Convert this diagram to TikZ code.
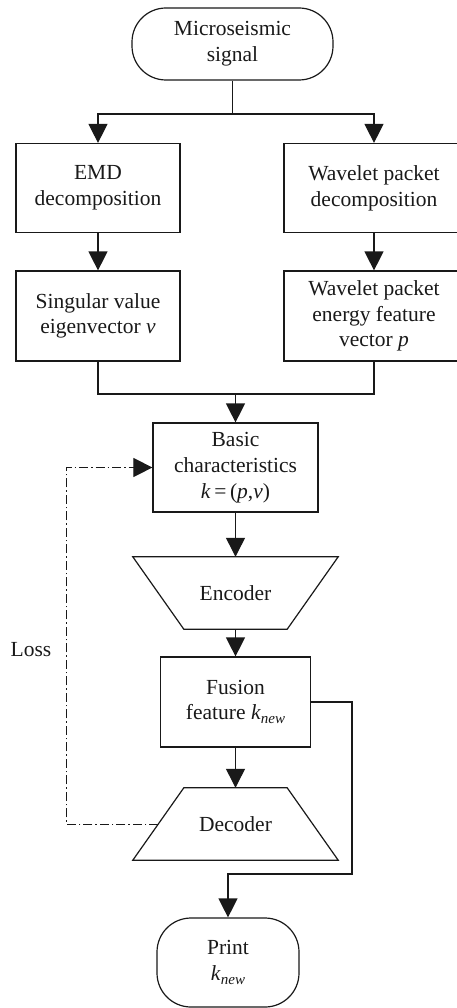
\documentclass[tikz,border=0pt]{standalone}
\usepackage{fontspec}
\setmainfont{Liberation Serif}
\usetikzlibrary{arrows.meta,calc}
% italic subscript such as "new" in k_new
\newcommand\lowsub[1]{\raisebox{-0.4ex}{\fontsize{15}{15}\selectfont\itshape #1}}

\begin{document}
\begin{tikzpicture}[x=1pt,y=-1pt,
  every node/.style={font=\fontsize{21.5}{25.7}\selectfont, text=black!90},
  box/.style={draw=black!90, line width=1.2pt, rectangle, align=center, inner sep=0pt},
  term/.style={box, rounded corners=34pt},
  blank/.style={align=center, inner sep=0pt},
  link/.style={draw=black!90, line width=1.2pt},
  tip/.style={-{Triangle[length=19pt,width=19pt]}},
  flow/.style={link, tip},
  lossline/.style={draw=black!90, line width=1pt,
    dash pattern=on 9pt off 3pt on 1.5pt off 3pt, tip}]

\useasboundingbox (0,0) rectangle (457,1008);
\clip (0,0) rectangle (457,1008);

% --- nodes
\node[term, minimum width=201pt, minimum height=72pt] (top) at (232.5,44) {Microseismic\\signal};

\node[box, minimum width=164pt, minimum height=89pt] (emd) at (98,188) {EMD\\decomposition};
\node[box, minimum width=180pt, minimum height=89pt] (wpd) at (374,188) {Wavelet packet\\decomposition};

\node[box, minimum width=164pt, minimum height=90pt] (sv) at (98,316) {Singular value\\eigenvector \textit{v}};
\node[box, minimum width=180pt, minimum height=90pt] (wpe) at (374,316) {Wavelet packet\\energy feature\\vector \textit{p}};

\node[box, minimum width=165pt, minimum height=89pt] (basic) at (235.5,467.5)
  {Basic\\characteristics\\\textit{k}\,=\,(\textit{p},\textit{v})};

\node[blank, minimum width=205pt, minimum height=72pt] (enc) at (235.5,593) {Encoder};
\draw[link] (enc.north west) -- (enc.north east) -- ([xshift=-51pt]enc.south east)
  -- ([xshift=51pt]enc.south west) -- cycle;

\node[box, minimum width=150pt, minimum height=90pt] (fus) at (235.5,702)
  {Fusion\\feature \textit{k}\lowsub{new}};

\node[blank, minimum width=205pt, minimum height=72pt] (dec) at (235.5,824) {Decoder};
\draw[link] ([xshift=51pt]dec.north west) -- ([xshift=-51pt]dec.north east)
  -- (dec.south east) -- (dec.south west) -- cycle;

\node[term, minimum width=142pt, minimum height=89pt] (print) at (228,962.5)
  {Print\\\textit{k}\lowsub{new}};

\node[blank] (loss) at (31,650) {Loss};

% --- connectors
\coordinate (split) at (232.5,114);
\draw[link] (top.south) -- (split);
\draw[flow] (split) -| (emd.north);
\draw[flow] (split) -| (wpd.north);

\draw[flow] (emd.south) -- (sv.north);
\draw[flow] (wpd.south) -- (wpe.north);

\coordinate (merge) at (235.5,394);
\draw[link] (sv.south) |- (merge) -| (wpe.south);
\draw[flow] (merge) -- (basic.north);

\draw[flow] (basic.south) -- (enc.north);
\draw[flow] (enc.south) -- (fus.north);
\draw[flow] (fus.south) -- (dec.north);

\coordinate (bypass) at (352,874);
\draw[flow] (fus.east) -| (bypass) -| (print.north);

\coordinate (lossend) at ([xshift=25.5pt]dec.west);
\coordinate (lossx) at (66,0);
\draw[lossline] (lossend) -- (lossend -| lossx) |- (basic.west);

\end{tikzpicture}
\end{document}
